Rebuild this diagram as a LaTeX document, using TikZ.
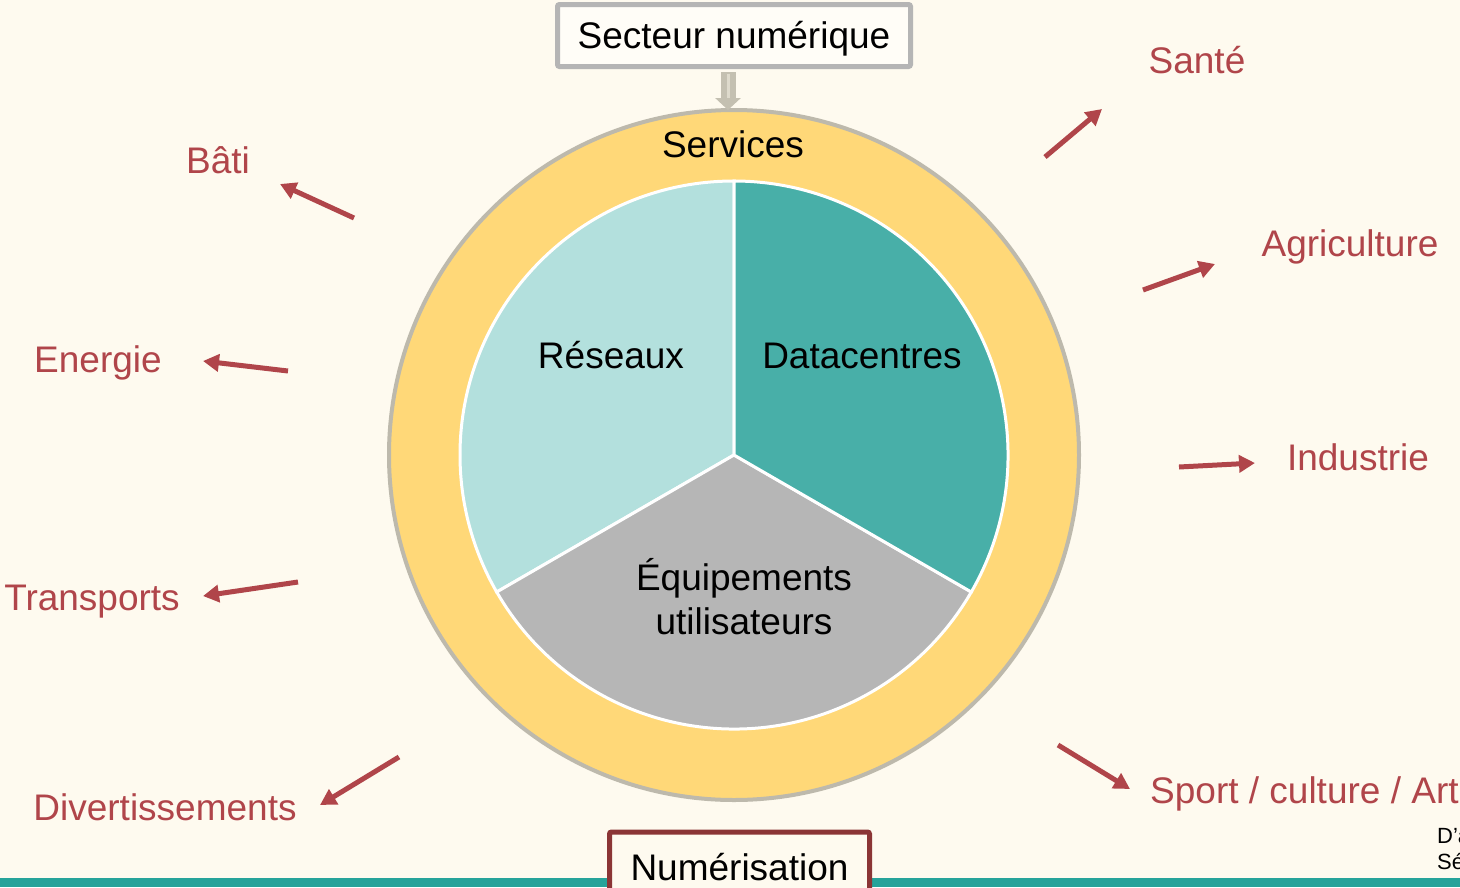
\documentclass[tikz,border=0pt]{standalone}
\usepackage{fontspec}
\setmainfont{Liberation Sans}
\usetikzlibrary{arrows.meta}

\definecolor{paper}{HTML}{FEFAEF}
\definecolor{ringfill}{HTML}{FFD878}
\definecolor{ringedge}{HTML}{BDB9AC}
\definecolor{netfill}{HTML}{B3E0DD}
\definecolor{dcfill}{HTML}{48AFA8}
\definecolor{devfill}{HTML}{B6B6B6}
\definecolor{sectred}{HTML}{B0454A}
\definecolor{boxgray}{HTML}{B5B5B5}
\definecolor{boxfill}{HTML}{FFFDF7}
\definecolor{darkred}{HTML}{8B3535}
\definecolor{tealbar}{HTML}{26A39A}
\definecolor{arrowgray}{HTML}{C4C0B1}
\definecolor{arrowlight}{HTML}{DEDACC}

\tikzset{
  big/.style={font=\fontsize{37}{44}\selectfont, inner sep=0pt, text height=26.6pt, text depth=0pt},
  sector/.style={big, text=sectred},
  inner/.style={big, text=black},
  impact/.style={draw=sectred, line width=5pt, -{Triangle[length=16pt,width=17pt]}},
  titlebox/.style={draw=boxgray, fill=boxfill, line width=5pt, rounded corners=2pt,
    font=\fontsize{37}{44}\selectfont, text height=26.6pt, text depth=0pt, inner sep=0pt},
}

\begin{document}
\begin{tikzpicture}[x=1pt, y=-1pt]
  \useasboundingbox (0,0) rectangle (1460,887);
  \clip (0,0) rectangle (1460,887);
  \fill[paper] (0,0) rectangle (1460,887);

  % ring and three-part pie
  \begin{scope}[shift={(734,455)}, y=1pt]
    \filldraw[fill=ringfill, draw=ringedge, line width=4pt] (0,0) circle[radius=345pt];
    \filldraw[fill=netfill, draw=white, line width=3pt]
      (0,0) -- (90:274pt) arc[start angle=90, end angle=210, radius=274pt] -- cycle;
    \filldraw[fill=devfill, draw=white, line width=3pt]
      (0,0) -- (210:274pt) arc[start angle=210, end angle=330, radius=274pt] -- cycle;
    \filldraw[fill=dcfill, draw=white, line width=3pt]
      (0,0) -- (330:274pt) arc[start angle=330, end angle=450, radius=274pt] -- cycle;
    \coordinate (ringtop) at (-6pt,345pt);
  \end{scope}

  \node[inner] (services) at (733,144) {Services};
  \node[inner] (reseaux) at (611,355) {Réseaux};
  \node[inner] (datacentres) at (862,355) {Datacentres};
  \node[inner] (equip1) at (744,577) {Équipements};
  \node[inner] (equip2) at (744,621) {utilisateurs};

  % top box with its arrow into the ring
  \node[titlebox, minimum width=353pt, minimum height=62pt] (secteur) at (734,35.5) {Secteur numérique};
  \draw[arrowgray, line width=15pt, shorten <=3pt, -{Triangle[length=12pt,width=25pt]}]
    (secteur.south -| ringtop) -- (ringtop);
  \draw[arrowlight, line width=3pt, shorten <=5pt, shorten >=12pt]
    (secteur.south -| ringtop) -- (ringtop);

  % bottom band and box
  \fill[tealbar] (0,878) rectangle (1460,887);
  \node[titlebox, draw=darkred, fill=paper, minimum width=260pt, minimum height=70pt] (numerisation) at (739.5,867) {Numérisation};

  % sectors reached by digital tech
  \node[sector] (bati) at (218,160) {Bâti};
  \node[sector] (energie) at (98,359) {Energie};
  \node[sector] (transports) at (92,597) {Transports};
  \node[sector] (divert) at (165,807) {Divertissements};
  \node[sector] (sante) at (1197,60) {Santé};
  \node[sector] (agri) at (1350,243) {Agriculture};
  \node[sector] (industrie) at (1358,457) {Industrie};
  \node[sector, anchor=west] (sport) at (1150,790) {Sport / culture / Art};

  \coordinate (b0) at (354,218);  \coordinate (b1) at (280,184);
  \coordinate (e0) at (288,371);  \coordinate (e1) at (203,361);
  \coordinate (t0) at (298,582);  \coordinate (t1) at (203,596);
  \coordinate (d0) at (399,757);  \coordinate (d1) at (320,805);
  \coordinate (s0) at (1045,157); \coordinate (s1) at (1102,109);
  \coordinate (a0) at (1143,290); \coordinate (a1) at (1215,264);
  \coordinate (i0) at (1179,467); \coordinate (i1) at (1255,463);
  \coordinate (p0) at (1058,745); \coordinate (p1) at (1130,789);

  \draw[impact] (b0) -- (b1);
  \draw[impact] (e0) -- (e1);
  \draw[impact] (t0) -- (t1);
  \draw[impact] (d0) -- (d1);
  \draw[impact] (s0) -- (s1);
  \draw[impact] (a0) -- (a1);
  \draw[impact] (i0) -- (i1);
  \draw[impact] (p0) -- (p1);

  % source note at the lower right corner
  \node[anchor=west, inner sep=0pt, font=\fontsize{22}{26}\selectfont, align=left] (source) at (1437,849) {D’a\\Sé};
\end{tikzpicture}
\end{document}
